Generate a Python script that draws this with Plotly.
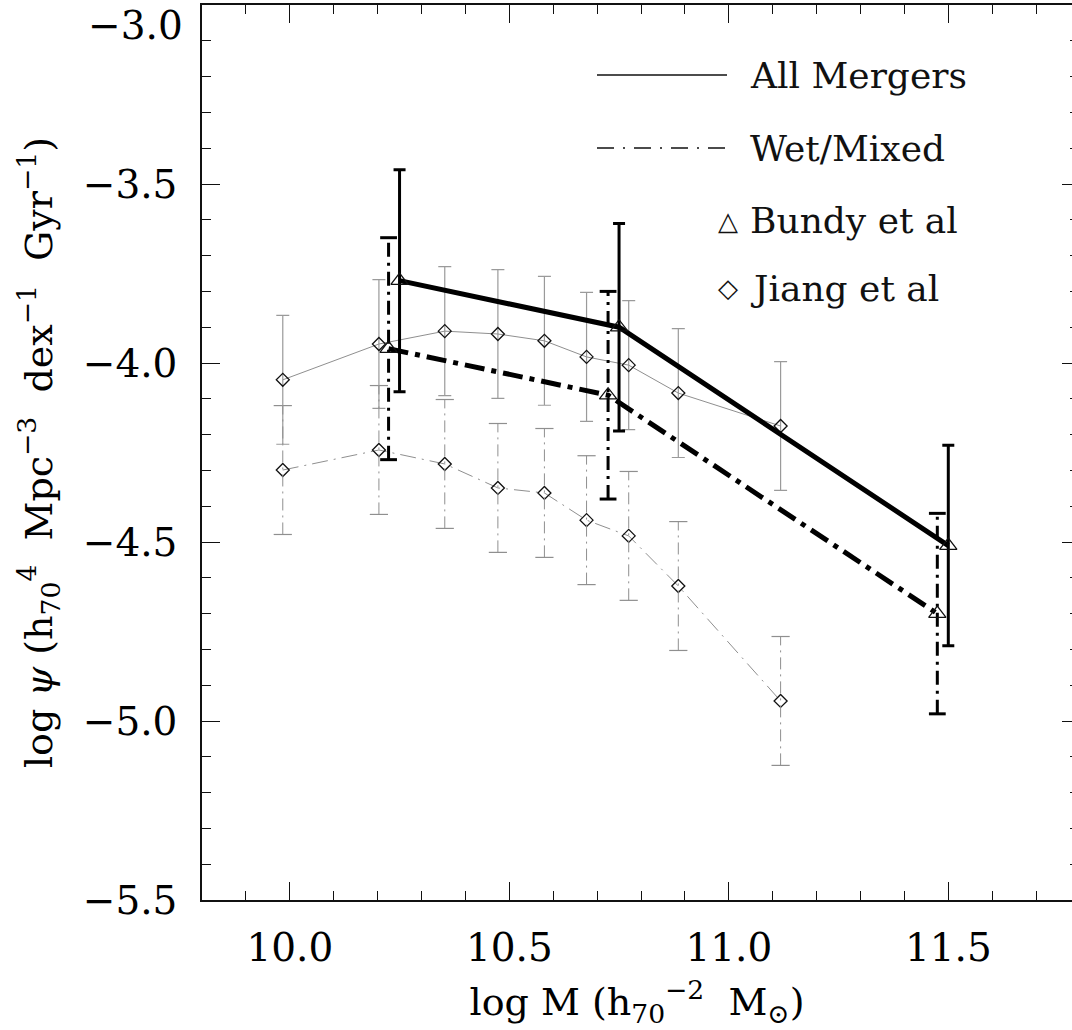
import plotly.graph_objects as go

# ---- data -----------------------------------------------------------------
# Jiang et al: all-merger and wet-merger rates vs stellar mass
jiang_logm = [9.984, 10.203, 10.353, 10.474, 10.580, 10.676, 10.772, 10.885, 11.118]
jiang_all = [-4.047, -3.947, -3.911, -3.919, -3.938, -3.983, -4.006, -4.084, -4.176]
jiang_all_err = [0.18, 0.18, 0.18, 0.18, 0.18, 0.18, 0.18, 0.18, 0.18]
jiang_wet = [-4.299, -4.243, -4.282, -4.349, -4.363, -4.439, -4.483, -4.623, -4.944]
jiang_wet_err = [0.18, 0.18, 0.18, 0.18, 0.18, 0.18, 0.18, 0.18, 0.18]

# Bundy et al: all mergers and wet/mixed mergers
bundy_all_logm = [10.25, 10.75, 11.50]
bundy_all = [-3.77, -3.90, -4.51]
bundy_all_err = [0.31, 0.29, 0.28]
bundy_wet_logm = [10.225, 10.725, 11.475]
bundy_wet = [-3.96, -4.09, -4.70]
bundy_wet_err = [0.31, 0.29, 0.28]

x_ticks = [10.0, 10.5, 11.0, 11.5]
y_ticks = [-5.5, -5.0, -4.5, -4.0, -3.5, -3.0]
legend_labels = ["All Mergers", "Wet/Mixed", "Bundy et al", "Jiang et al"]

# ---- geometry --------------------------------------------------------------
W, H = 1072, 1030
ML, MR, MT, MB = 202, 0, 5, 130
PW, PH = W - ML - MR, H - MT - MB
X_RANGE = [9.8, 9.8 + PW / 439.0]
Y_RANGE = [-5.5, -3.0]
SERIF = "DejaVu Serif"
GREY = "#8f8f8f"
INK = "#111111"


def px_to_paper(px, py):
    return (px - ML) / PW, 1 - (py - MT) / PH


def whiskers(xs, ys, es):
    """Vertical error-bar stems as one broken polyline."""
    wx, wy = [], []
    for x, y, e in zip(xs, ys, es):
        wx += [x, x, None]
        wy += [y - e, y + e, None]
    return wx, wy


def caps(xs, ys, es):
    cx = list(xs) + list(xs)
    cy = [y + e for y, e in zip(ys, es)] + [y - e for y, e in zip(ys, es)]
    return cx, cy


fig = go.Figure()

# Jiang et al, wet mergers: dash-dot grey error bars
wx, wy = whiskers(jiang_logm, jiang_wet, jiang_wet_err)
fig.add_trace(go.Scatter(x=wx, y=wy, mode="lines", yaxis="y2",
                         line=dict(color=GREY, width=1, dash="12px,5px,2px,5px"),
                         hoverinfo="skip"))
cx, cy = caps(jiang_logm, jiang_wet, jiang_wet_err)
fig.add_trace(go.Scatter(x=cx, y=cy, mode="markers",
                         marker=dict(symbol="line-ew", size=13,
                                     line=dict(color=GREY, width=1.2)),
                         hoverinfo="skip"))
fig.add_trace(go.Scatter(x=jiang_logm, y=jiang_wet, mode="lines+markers",
                         line=dict(color=GREY, width=1, dash="16px,6px,2px,6px"),
                         marker=dict(symbol="diamond-open", size=10,
                                     color=INK, line=dict(width=1.3, color=INK))))

# Jiang et al, all mergers: solid grey
fig.add_trace(go.Scatter(x=jiang_logm, y=jiang_all, mode="lines+markers",
                         line=dict(color=GREY, width=1),
                         error_y=dict(type="data", array=jiang_all_err, visible=True,
                                      color="#9a9a9a", thickness=1.2, width=6.5),
                         marker=dict(symbol="diamond-open", size=10,
                                     color=INK, line=dict(width=1.3, color=INK))))

# Bundy et al, wet/mixed: thick dash-dot
wx, wy = whiskers(bundy_wet_logm, bundy_wet, bundy_wet_err)
fig.add_trace(go.Scatter(x=wx, y=wy, mode="lines",
                         line=dict(color="black", width=3, dash="14px,6px,3px,6px"),
                         hoverinfo="skip"))
cx, cy = caps(bundy_wet_logm, bundy_wet, bundy_wet_err)
fig.add_trace(go.Scatter(x=cx, y=cy, mode="markers",
                         marker=dict(symbol="line-ew", size=12,
                                     line=dict(color="black", width=3)),
                         hoverinfo="skip"))
fig.add_trace(go.Scatter(x=bundy_wet_logm, y=bundy_wet, mode="lines+markers",
                         line=dict(color="black", width=5, dash="20px,7px,5px,7px"),
                         marker=dict(symbol="triangle-up-open", size=15,
                                     color=INK, line=dict(width=1.3, color=INK))))

# Bundy et al, all mergers: thick solid
fig.add_trace(go.Scatter(x=bundy_all_logm, y=bundy_all, mode="lines+markers",
                         line=dict(color="black", width=5),
                         error_y=dict(type="data", array=bundy_all_err, visible=True,
                                      color="black", thickness=3, width=6),
                         marker=dict(symbol="triangle-up-open", size=15,
                                     color=INK, line=dict(width=1.3, color=INK))))

# ---- legend drawn inside the frame ----------------------------------------
shapes = []
annotations = []
legend_rows = [75, 148, 221, 288]
line_x0, line_x1, text_x, sym_x = 597, 727, 748, 728
for label, row in zip(legend_labels, legend_rows):
    tx, ty = px_to_paper(text_x, row)
    annotations.append(dict(x=tx, y=ty, xref="paper", yref="paper", text=label,
                            showarrow=False, xanchor="left", yanchor="middle",
                            font=dict(family=SERIF, size=36, color=INK)))
for row, dash in zip(legend_rows[:2], ["solid", "17px,9px,2px,9px"]):
    x0, y0 = px_to_paper(line_x0, row)
    x1, _ = px_to_paper(line_x1, row)
    shapes.append(dict(type="line", xref="paper", yref="paper", x0=x0, x1=x1,
                       y0=y0, y1=y0, line=dict(color=INK, width=1.3, dash=dash)))
for row, glyph in zip(legend_rows[2:], ["\u25B3", "\u25C7"]):
    gx, gy = px_to_paper(sym_x, row)
    annotations.append(dict(x=gx, y=gy, xref="paper", yref="paper", text=glyph,
                            showarrow=False, xanchor="center", yanchor="middle",
                            font=dict(family="DejaVu Sans", size=26, color=INK)))

# top y tick label, nudged down to stay on the page
annotations.append(dict(x=-17 / PW, y=y_ticks[-1], xref="paper", yref="y",
                        text=f"\u2212{abs(y_ticks[-1]):.1f}", showarrow=False,
                        xanchor="right", yanchor="top", yshift=4,
                        font=dict(family=SERIF, size=39, color="black")))

y_text = [f"\u2212{abs(v):.1f}" for v in y_ticks[:-1]] + [""]

axis_common = dict(showgrid=False, zeroline=False, showline=True, linecolor=INK,
                   linewidth=1.5, ticks="inside", ticklen=18, tickwidth=1.3,
                   tickcolor=INK, tickfont=dict(family=SERIF, size=39, color="black"))

fig.update_layout(
    width=W, height=H,
    margin=dict(l=ML, r=MR, t=MT, b=MB),
    paper_bgcolor="white", plot_bgcolor="white",
    showlegend=False,
    font=dict(family=SERIF, color="black"),
    xaxis=dict(range=X_RANGE, mirror="ticks", tickmode="array", tickvals=x_ticks,
               ticktext=[f"{v:.1f}" for v in x_ticks], ticklabelstandoff=12,
               minor=dict(ticks="inside", ticklen=9, tickwidth=1.3, tickcolor=INK,
                          tick0=10.0, dtick=0.1),
               title=dict(text="log M (h<sub>70</sub><sup>\u22122</sup>\u00a0\u00a0M<sub>\u2299</sub>)",
                          font=dict(family=SERIF, size=38), standoff=20),
               **axis_common),
    yaxis=dict(range=Y_RANGE, mirror=False, tickmode="array", tickvals=y_ticks,
               ticktext=y_text, ticklabelstandoff=15,
               minor=dict(ticks="inside", ticklen=9, tickwidth=1.3, tickcolor=INK,
                          tick0=-5.5, dtick=0.1),
               title=dict(text="log <i>\u03c8</i> (h<sub>70</sub><sup>4</sup>\u00a0\u00a0Mpc<sup>\u22123</sup>\u00a0\u00a0dex<sup>\u22121</sup>\u00a0\u00a0Gyr<sup>\u22121</sup>)",
                          font=dict(family=SERIF, size=38), standoff=18),
               **axis_common),
    yaxis2=dict(range=Y_RANGE, overlaying="y", side="right", anchor="x",
                showgrid=False, zeroline=False, showline=False,
                ticks="inside", ticklen=10, tickwidth=1.3, tickcolor=INK,
                tickmode="array", tickvals=y_ticks, showticklabels=False,
                minor=dict(ticks="inside", ticklen=2, tickwidth=1.3, tickcolor=INK,
                           tick0=-5.5, dtick=0.1)),
    shapes=shapes,
    annotations=annotations,
)

fig.write_html("out.html")
